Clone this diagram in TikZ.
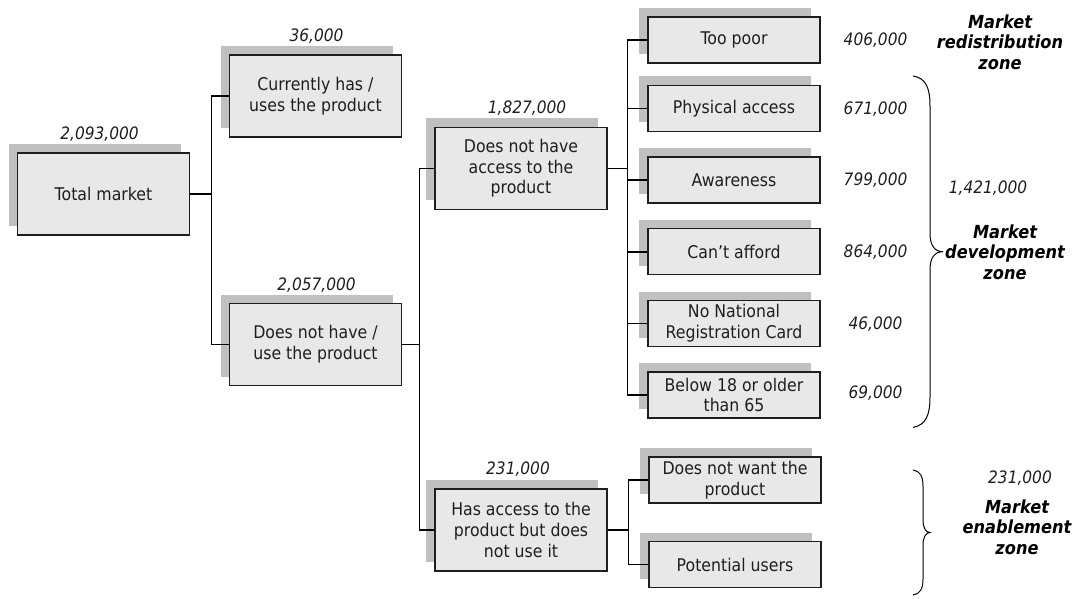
\documentclass[tikz,border=0pt]{standalone}
\usepackage{fontspec}
\setmainfont{DejaVu Sans}[FakeStretch=0.9]
\usetikzlibrary{shadows,calc}
\definecolor{boxfill}{HTML}{E8E8E8}
\definecolor{shadowgray}{HTML}{C0C0C0}
\definecolor{ink}{HTML}{1E1E1E}

\begin{document}
\begin{tikzpicture}[x=1pt,y=-1pt,
  box/.style={draw=ink, line width=1.1pt, fill=boxfill, text=ink, align=center, inner sep=0pt,
    font=\fontsize{17.5}{20.8}\selectfont,
    general shadow={fill=shadowgray, shadow xshift=-9pt, shadow yshift=9pt}},
  bigbox/.style={box, minimum width=172pt, minimum height=82pt},
  smallbox/.style={box, minimum width=172pt, minimum height=46pt},
  num/.style={font=\fontsize{17.1}{20.8}\selectfont\itshape, text=ink, inner sep=0pt},
  zone/.style={font=\fontsize{18}{20.5}\selectfont\bfseries\itshape, text=black, align=center, inner sep=0pt},
  conn/.style={draw=black, line width=1.1pt},
  trunk/.style={draw=black, line width=1.6pt},
  brace/.style={draw=black, line width=1pt}
]
\useasboundingbox (0,0) rectangle (1077,598);

% ---- level 1
\node[bigbox] (A) at (103.5,194) {Total market};
% ---- level 2
\node[bigbox] (B1) at (315.5,96) {Currently has /\\uses the product};
\node[bigbox] (B2) at (315.5,344.5) {Does not have /\\use the product};
% ---- level 3
\node[bigbox] (C1) at (521,168.3) {Does not have\\access to the\\product};
\node[bigbox] (C2) at (521,530) {Has access to the\\product but does\\not use it};
% ---- reasons for no access
\node[smallbox] (D1) at (734,40)    {Too poor};
\node[smallbox] (D2) at (734,108.3) {Physical access};
\node[smallbox] (D3) at (734,180)   {Awareness};
\node[smallbox] (D4) at (734,251.7) {Can’t afford};
\node[smallbox] (D5) at (734,323.5) {No National\\Registration Card};
\node[smallbox] (D6) at (734,395)   {Below 18 or older\\than 65};
% ---- access but no use
\node[smallbox] (E1) at (735,480)   {Does not want the\\product};
\node[smallbox] (E2) at (735,564.5) {Potential users};

% ---- figures above the boxes
\node[num] (nA)  at ($(A.north)+(-4,-18)$)  {2,093,000};
\node[num] (nB1) at ($(B1.north)+(1,-18)$)  {36,000};
\node[num] (nB2) at ($(B2.north)+(1,-18)$)  {2,057,000};
\node[num] (nC1) at ($(C1.north)+(6,-19)$)  {1,827,000};
\node[num] (nC2) at ($(C2.north)+(-3,-19)$) {231,000};

% ---- figures beside the reason boxes
\node[num] (nD1) at ($(D1.east)+(55,0)$) {406,000};
\node[num] (nD2) at ($(D2.east)+(55,1)$) {671,000};
\node[num] (nD3) at ($(D3.east)+(55,0)$) {799,000};
\node[num] (nD4) at ($(D4.east)+(55,0)$) {864,000};
\node[num] (nD5) at ($(D5.east)+(55,1)$) {46,000};
\node[num] (nD6) at ($(D6.east)+(55,-2)$) {69,000};

% ---- connectors
\draw[conn] (A.east) -- ++(21,0) |- (B1.west);
\draw[conn] (A.east) -- ++(21,0) |- (B2.west);
\draw[conn] (B2.east) -- ++(17,0) |- (C1.west);
\draw[conn] (B2.east) -- ++(17,0) |- (C2.west);
\draw[trunk] (C1.east) -- ++(20,0) coordinate (jC1);
\draw[conn] (jC1) |- (D1.west);
\draw[conn] (jC1) |- (D2.west);
\draw[conn] (jC1) |- (D3.west);
\draw[trunk] (jC1) |- (D4.west);
\draw[trunk] (jC1) |- (D5.west);
\draw[trunk] (jC1) |- (D6.west);
\draw[conn] (C2.east) -- ++(21,0) coordinate (jC2);
\draw[conn] (jC2) |- (E1.west);
\draw[conn] (jC2) |- (E2.west);

% ---- braces
\coordinate (b1top) at (913,76);
\coordinate (b1tip) at (943,251.7);
\coordinate (b1bot) at (913,427.4);
\draw[brace] (b1top) .. controls (926,78) and (930,88) .. (930,106)
  -- (930,233) .. controls (930,246) and (935,251.7) .. (b1tip)
  .. controls (935,251.7) and (930,257) .. (930,270)
  -- (930,397) .. controls (930,415) and (926,425) .. (b1bot);

\coordinate (b2top) at (913,470);
\coordinate (b2tip) at (930,532.5);
\coordinate (b2bot) at (913,595);
\draw[brace] (b2top) .. controls (920,471) and (923,476) .. (923,486)
  -- (923,520) .. controls (923,528) and (926,532.5) .. (b2tip)
  .. controls (926,532.5) and (923,537) .. (923,545)
  -- (923,579) .. controls (923,589) and (920,594) .. (b2bot);

% ---- zone labels
\node[zone] (zR) at (1000,42) {Market\\redistribution\\zone};
\node[num]  (nDev) at (988,187.7) {1,421,000};
\node[zone] (zD) at (1005,252) {Market\\development\\zone};
\node[num]  (nEn) at (1020,478.3) {231,000};
\node[zone] (zE) at (1017,527) {Market\\enablement\\zone};
\end{tikzpicture}
\end{document}
